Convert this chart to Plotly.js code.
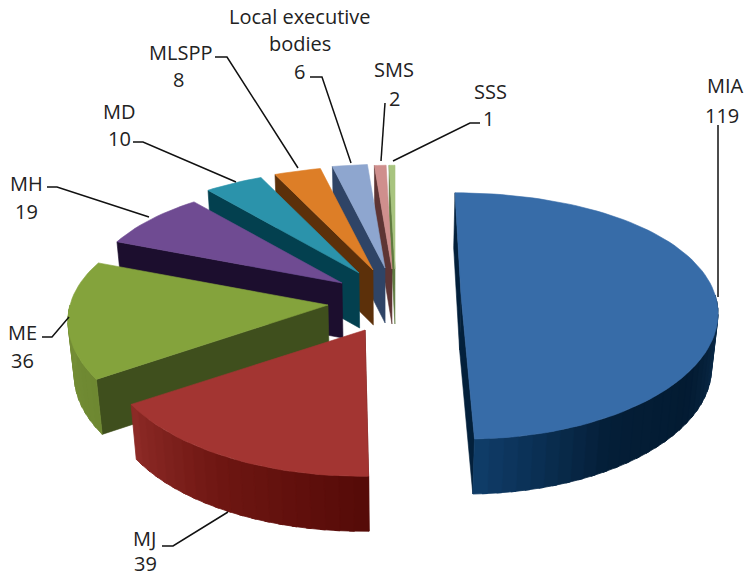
<!DOCTYPE html>
<html>
<head>
<meta charset="utf-8">
<script src="https://cdn.plot.ly/plotly-3.0.1.min.js"></script>
<style>html,body{margin:0;padding:0;background:#fff}#chart{width:747px;height:578px}</style>
</head>
<body>
<div id="chart"></div>
<script>
// ---- data ----
const categories = ["MIA","MJ","ME","MH","MD","MLSPP","Local executive bodies","SMS","SSS"];
const values = [119,39,36,19,10,8,6,2,1];

// ---- styles ----
const topColors  = ["#376ca8","#a33532","#84a33c","#6f4b92","#2b93ab","#dd7e27","#8ea6cf","#cf8f8d","#a8c47f"];
const faceColors = ["#03203b","#570b08","#3f4f1d","#1c0e2e","#03404f","#5c300a","#2f4466","#5e3534","#5f7a3f"];
const rimStops = [
  [[90,[14,50,84]],[125,[3,27,50]],[150,[4,30,55]],[178,[15,60,104]]],
  [[178,[84,10,7]],[210,[110,22,18]],[238,[142,43,39]]],
  [[237,[110,136,49]],[270,[116,142,54]]],
  [[291,[60,40,80]],[320,[60,40,80]]],
  [[320,[3,64,79]],[335,[3,64,79]]],
  [[335,[92,48,10]],[347,[92,48,10]]],
  [[347,[47,68,102]],[356,[47,68,102]]],
  [[356,[94,53,52]],[359,[94,53,52]]],
  [[359,[95,122,63]],[360,[95,122,63]]]
];

// ---- projection of the exploded, tilted pie (layout constants) ----
const explodedX = [461,365,328,342,359,373,385,392,395];
const explodedY = [295,330,305,283,273,270,268,269,269];
const tilt      = [6,-4,0,0,0,0,0,0,0];
const radiusK   = [0.985,1,1,0.98,1,1,1,1,1];
const RX = 258, RY = 125, KX = 0.13, KY = 0.17, DEPTH = 55, DEPTH_SCALE = 0.98, VANISH_X = 390;

const total = values.reduce((a,b)=>a+b,0);
function rim(i, deg){
  const t = deg*Math.PI/180, u = Math.sin(t), v = -Math.cos(t);
  return [explodedX[i] + tilt[i]*v + u*RX*radiusK[i]*(1+KX*v),
          explodedY[i] + v*RY*radiusK[i]*(1+KY*v)];
}
function lower(p){ return [VANISH_X + (p[0]-VANISH_X)*DEPTH_SCALE, p[1]+DEPTH]; }
function arc(i,a,b,n){ const o=[]; for(let k=0;k<=n;k++) o.push(rim(i,a+(b-a)*k/n)); return o; }
function poly(pts,color,width){
  const xs=pts.map(p=>p[0]), ys=pts.map(p=>p[1]);
  xs.push(xs[0]); ys.push(ys[0]);
  return {type:"scatter",mode:"lines",x:xs,y:ys,fill:"toself",fillcolor:color,
          line:{color:color,width:width||0.6},hoverinfo:"skip",showlegend:false};
}
function mix(stops,deg){
  let s=stops[0][1];
  for(let k=0;k<stops.length-1;k++){
    const [a,ca]=stops[k],[b,cb]=stops[k+1];
    if(deg>=a&&deg<=b){const f=(deg-a)/(b-a); s=ca.map((c,j)=>c+(cb[j]-c)*f); return s;}
    if(deg>b) s=cb;
  }
  return s;
}
const rgb=c=>"rgb("+c.map(Math.round).join(",")+")";

const starts=[]; let acc=0;
values.forEach(v=>{starts.push(acc); acc+=v/total*360;});

const traces=[];
const order=[0,8,7,6,5,4,3,2,1];
order.forEach(i=>{
  const a=starts[i], b=a+values[i]/total*360;
  const apex=[explodedX[i],explodedY[i]];
  // radial wall at the slice's leading edge
  const ra=rim(i,a);
  traces.push(poly([apex,ra,lower(ra),lower(apex)],faceColors[i]));
  if(i===0){
    const rb=rim(i,b);
    traces.push(poly([apex,rb,lower(rb),lower(apex)],faceColors[i]));
  }
  // curved outer wall, shaded in short overlapping segments
  const lo=Math.max(a,90), hi=Math.min(b,270);
  if(hi>lo){
    const segs=Math.max(2,Math.round((hi-lo)/3));
    for(let s=0;s<segs;s++){
      const d0=lo+(hi-lo)*s/segs, d1=lo+(hi-lo)*(s+1.35)/segs;
      const top=arc(i,d0,Math.min(d1,hi),3);
      const bottom=top.map(lower).reverse();
      traces.push(poly(top.concat(bottom),rgb(mix(rimStops[i],(d0+d1)/2)),0.8));
    }
  }
  // top surface
  const n=Math.max(4,Math.round((b-a)/2));
  traces.push(poly([apex].concat(arc(i,a,b,n)),topColors[i]));
});

// ---- leader lines ----
const leaderX=[[718,718],[393,470,480],[381,385],[351,322,310],[298,227,215],[236,143,133],[149,57,47],[69,52,42],[228,173,162]];
const leaderY=[[297,125],[161,123,123],[161,103],[163,77,77],[168,57,57],[182,142,142],[217,187,187],[317,337,337],[512,546,546]];
leaderX.forEach((lx,k)=>traces.push({type:"scatter",mode:"lines",x:lx,y:leaderY[k],
  line:{color:"#111",width:1.5},hoverinfo:"skip",showlegend:false}));

// ---- labels ----
const nameLines=[["MIA"],["MJ"],["ME"],["MH"],["MD"],["MLSPP"],["Local executive","bodies"],["SMS"],["SSS"]];
const labelX=[725,144,22,26,119,180,300,394,490];
const labelY=[85,538,332,183,111,52,16,69,91];
const valueX=[722,145,22,26,119,178,299,394,488];
const valueY=[115,563,360,211,138,79,71,98,118];
const font={family:"'Open Sans', Lato, sans-serif",size:20,color:"#222"};
const annotations=[];
nameLines.forEach((lines,i)=>{
  lines.forEach((t,j)=>annotations.push({x:labelX[i],y:labelY[i]+j*27,text:t,showarrow:false,font:font,xanchor:"center",yanchor:"middle"}));
  annotations.push({x:valueX[i],y:valueY[i],text:String(values[i]),showarrow:false,font:font,xanchor:"center",yanchor:"middle"});
});

Plotly.newPlot("chart",traces,{
  width:747,height:578,margin:{l:0,r:0,t:0,b:0},
  paper_bgcolor:"#fff",plot_bgcolor:"#fff",showlegend:false,hovermode:false,
  xaxis:{range:[0,747],visible:false,fixedrange:true},
  yaxis:{range:[578,0],visible:false,fixedrange:true},
  annotations:annotations
},{displayModeBar:false,staticPlot:true});
</script>
</body>
</html>
